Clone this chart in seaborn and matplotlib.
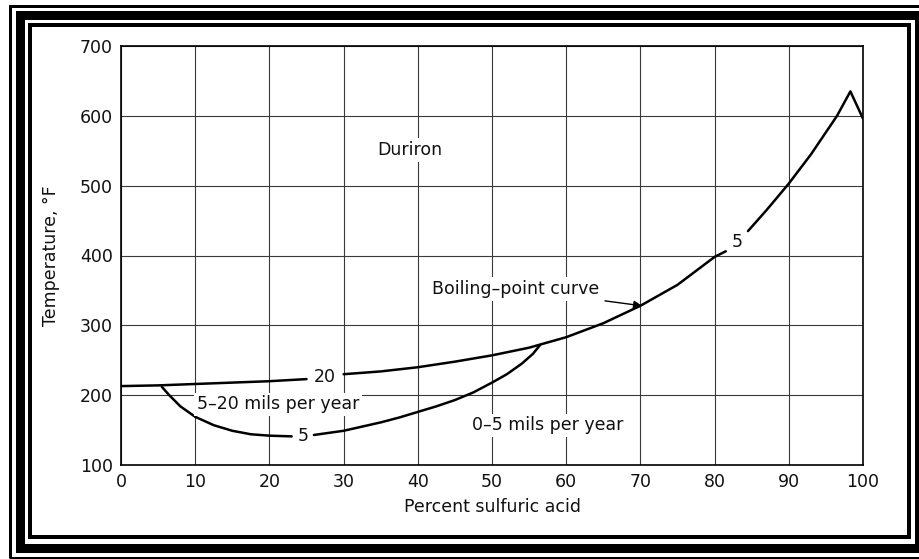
import matplotlib

matplotlib.use("Agg")
import matplotlib.pyplot as plt
import pandas as pd
import seaborn as sns
from matplotlib.patches import Rectangle

# boiling-point curve, split where the "20" and "5" labels sit on it
bp_x_a = [0, 5, 10, 15, 20, 25]
bp_t_a = [213, 214, 216, 218, 220, 223]
bp_x_b = [30, 35, 40, 45, 50, 55, 60, 65, 70, 75, 80, 81.5]
bp_t_b = [230, 234, 240, 248, 257, 268, 283, 303, 328, 358, 398, 406]
bp_x_c = [84.5, 87, 90, 93, 96.5, 98.3, 100]
bp_t_c = [435, 465, 503, 545, 600, 635, 596]

# 5 mils-per-year iso-corrosion line, split at its "5" label
mpy5_x_a = [5.5, 6.5, 8, 10, 12.5, 15, 17.5, 20, 23]
mpy5_t_a = [212, 200, 184, 169, 157, 149, 144, 142, 141]
mpy5_x_b = [26, 30, 35, 37.5, 40, 42.5, 45, 47.5, 50, 52, 54, 55.5, 56.5]
mpy5_t_b = [143, 149, 161, 168, 176, 184, 193, 204, 218, 230, 245, 259, 272]

x_ticks = list(range(0, 101, 10))
y_ticks = list(range(100, 701, 100))

segments = [
    ("bp_a", bp_x_a, bp_t_a),
    ("bp_b", bp_x_b, bp_t_b),
    ("bp_c", bp_x_c, bp_t_c),
    ("m5_a", mpy5_x_a, mpy5_t_a),
    ("m5_b", mpy5_x_b, mpy5_t_b),
]
df = pd.concat(
    [pd.DataFrame({"seg": name, "pct": xs, "temp": ts}) for name, xs, ts in segments],
    ignore_index=True,
)

sns.set_style("white")
plt.rcParams["font.family"] = ["DejaVu Sans"]

W, H = 919, 559
fig = plt.figure(figsize=(W / 100, H / 100), dpi=100)
ax = fig.add_axes([121 / W, 1 - 465 / H, (863 - 121) / W, (465 - 46) / H])

# grid first so the curves and labels sit on top
for xv in x_ticks:
    ax.axvline(xv, color="#3a3a3a", lw=0.8, zorder=1)
for yv in y_ticks:
    ax.axhline(yv, color="#3a3a3a", lw=0.8, zorder=1)

sns.lineplot(data=df, x="pct", y="temp", units="seg", estimator=None,
             color="black", lw=1.8, ax=ax, zorder=3, legend=False)

ax.set_xlim(0, 100)
ax.set_ylim(100, 700)
ax.set_xticks(x_ticks)
ax.set_yticks(y_ticks)
ax.tick_params(axis="both", length=0, labelsize=12.5, pad=6, labelcolor="#111111")
ax.set_xlabel("Percent sulfuric acid", fontsize=12.5, labelpad=5, color="#111111")
ax.set_ylabel("Temperature, \u00b0F", fontsize=12.5, labelpad=14, color="#111111")
for sp in ax.spines.values():
    sp.set_color("black")
    sp.set_linewidth(1.2)

box = dict(boxstyle="square,pad=0.15", fc="white", ec="none")
txt = dict(fontsize=12.5, color="#111111", zorder=4)
ax.text(34.5, 551, "Duriron", ha="left", va="center", bbox=box, **txt)
ax.text(10.2, 187, "5\u201320 mils per year", ha="left", va="center", bbox=box, **txt)
ax.text(47.3, 157, "0\u20135 mils per year", ha="left", va="center", bbox=box, **txt)
ax.text(27.4, 226, "20", ha="center", va="center", **txt)
ax.text(24.6, 141, "5", ha="center", va="center", **txt)
ax.text(83.0, 419, "5", ha="center", va="center", **txt)
ax.annotate("Boiling\u2013point curve", xy=(70.2, 328), xytext=(64.5, 352),
            ha="right", va="center", bbox=box, fontsize=12.5, color="#111111",
            zorder=4,
            arrowprops=dict(arrowstyle="-|>", color="black", lw=1.0,
                            shrinkA=2, shrinkB=0, mutation_scale=12))

# scanned-page triple border
def frame(left, top, right, bottom, width_px):
    fig.add_artist(Rectangle((left / W, 1 - bottom / H), (right - left) / W,
                             (bottom - top) / H, transform=fig.transFigure,
                             fill=False, edgecolor="black",
                             lw=width_px * 0.72, clip_on=False))

frame(9.5, 5.5, 927, 558, 3)
frame(20, 15, 919, 548, 9)
frame(30, 25, 909, 537, 4)

fig.savefig("out.png", dpi=100)
